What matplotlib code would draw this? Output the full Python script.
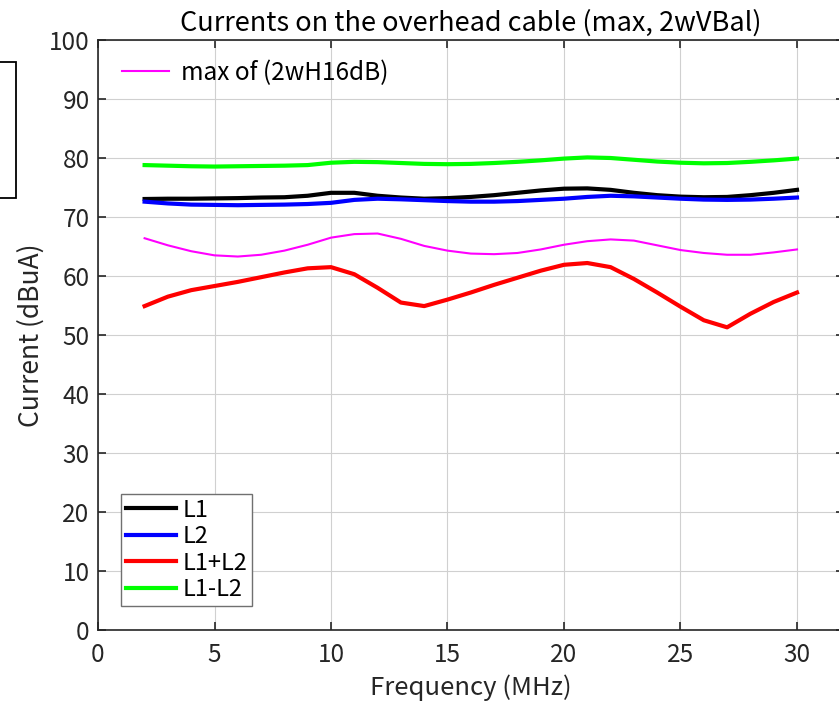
import matplotlib
matplotlib.use("Agg")
import matplotlib.pyplot as plt
from matplotlib.patches import Rectangle

plt.rcParams["font.family"] = ["Noto Sans CJK JP", "DejaVu Sans"]

freq_mhz = list(range(2, 31))

l1 = [73.05, 73.1, 73.1, 73.15, 73.2, 73.3, 73.35, 73.6, 74.1, 74.1,
      73.6, 73.3, 73.1, 73.2, 73.4, 73.7, 74.1, 74.5, 74.8, 74.85,
      74.6, 74.1, 73.7, 73.45, 73.35, 73.4, 73.7, 74.1, 74.6]
l2 = [72.6, 72.3, 72.1, 72.05, 72.0, 72.05, 72.1, 72.2, 72.4, 72.9,
      73.1, 73.0, 72.85, 72.7, 72.6, 72.6, 72.7, 72.9, 73.1, 73.4,
      73.6, 73.5, 73.3, 73.1, 72.95, 72.9, 72.95, 73.1, 73.3]
l1_plus_l2 = [54.9, 56.5, 57.6, 58.3, 59.0, 59.8, 60.6, 61.3, 61.5, 60.3,
              58.0, 55.5, 54.9, 56.0, 57.2, 58.5, 59.7, 60.9, 61.9, 62.2,
              61.5, 59.5, 57.2, 54.8, 52.5, 51.3, 53.6, 55.6, 57.2]
l1_minus_l2 = [78.8, 78.7, 78.6, 78.55, 78.6, 78.65, 78.7, 78.8, 79.2, 79.35,
               79.3, 79.15, 79.0, 78.95, 79.0, 79.15, 79.35, 79.6, 79.9, 80.1,
               80.0, 79.7, 79.4, 79.2, 79.1, 79.15, 79.35, 79.6, 79.9]
max_2wh16db = [66.4, 65.2, 64.2, 63.5, 63.3, 63.6, 64.3, 65.3, 66.5, 67.1,
               67.2, 66.3, 65.1, 64.3, 63.8, 63.7, 63.9, 64.5, 65.3, 65.9,
               66.2, 66.0, 65.2, 64.4, 63.9, 63.6, 63.6, 64.0, 64.5]

x_ticks = [0, 5, 10, 15, 20, 25, 30]
y_ticks = list(range(0, 101, 10))

dark = "#262626"

fig = plt.figure(figsize=(8.39, 7.07), dpi=100)
ax = fig.add_axes([98 / 839, 1 - 630 / 707, 745.6 / 839, 590 / 707])

h_max, = ax.plot(freq_mhz, max_2wh16db, color="#ff00ff", linewidth=1.5)
h1, = ax.plot(freq_mhz, l1, color="black", linewidth=3)
h2, = ax.plot(freq_mhz, l2, color="blue", linewidth=3)
h3, = ax.plot(freq_mhz, l1_plus_l2, color="red", linewidth=3)
h4, = ax.plot(freq_mhz, l1_minus_l2, color="#00ff00", linewidth=3)

ax.set_xlim(0, 32)
ax.set_ylim(0, 100)
ax.set_xticks(x_ticks)
ax.set_yticks(y_ticks)
ax.grid(True, color="#d0d0d0", linewidth=0.8)
ax.set_axisbelow(True)
ax.tick_params(direction="in", length=6, width=1.2, top=True, right=True,
               labelsize=17.5, colors=dark)
ax.tick_params(axis="x", pad=9)
ax.tick_params(axis="y", pad=6)
for sp in ax.spines.values():
    sp.set_color(dark)
    sp.set_linewidth(1.2)

ax.set_title("Currents on the overhead cable (max, 2wVBal)", fontsize=19.5, color="black", pad=7)
ax.set_xlabel("Frequency (MHz)", fontsize=18.5, color=dark, labelpad=4)
ax.set_ylabel("Current (dBuA)", fontsize=19, color=dark, labelpad=3)

leg1 = ax.legend([h_max], ["max of (2wH16dB)"], loc="upper left", frameon=False,
                 fontsize=17.5, handlelength=1.95, handletextpad=0.5,
                 borderaxespad=0, bbox_to_anchor=(0.019, 0.983))
ax.add_artist(leg1)
leg2 = ax.legend([h1, h2, h3, h4], ["L1", "L2", "L1+L2", "L1-L2"], loc="lower left",
                 fontsize=17, handlelength=2.15, handletextpad=0.25, labelspacing=0.15,
                 borderpad=0.2, borderaxespad=0, fancybox=False, framealpha=1,
                 edgecolor="#707070", bbox_to_anchor=(23 / 745.6, 24 / 590))
leg2.get_frame().set_linewidth(1.0)

fig.patches.append(Rectangle((-0.05, 1 - 198 / 707), 0.05 + 16 / 839, 136 / 707,
                             transform=fig.transFigure, fill=False,
                             edgecolor="black", linewidth=1.3))

fig.savefig("out.png", dpi=100)
